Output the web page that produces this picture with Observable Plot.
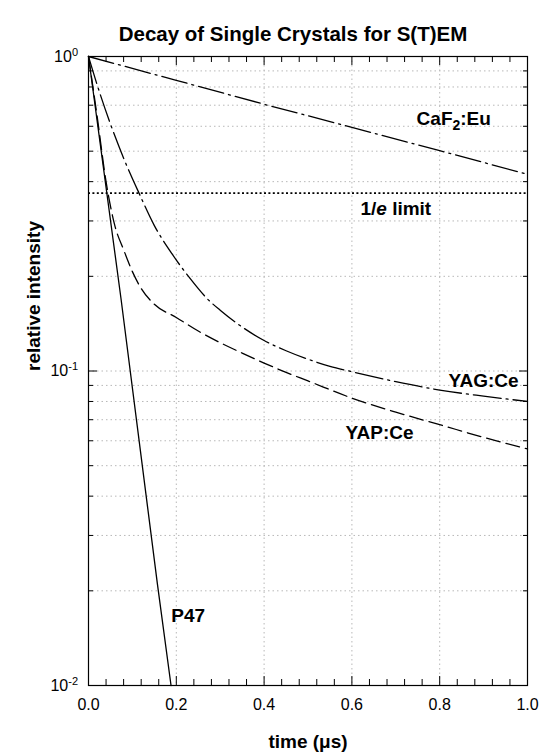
<!DOCTYPE html>
<html>
<head>
<meta charset="utf-8">
<script src="https://cdn.jsdelivr.net/npm/d3@7"></script>
<script src="https://cdn.jsdelivr.net/npm/@observablehq/plot@0.6"></script>
<style>
html, body { margin: 0; padding: 0; background: #fff; }
</style>
</head>
<body>
<div id="chart"></div>
<script>
// ---- texts ----
const titleText = "Decay of Single Crystals for S(T)EM";
const xLabel = "time (μs)";
const yLabel = "relative intensity";

// ---- ticks ----
const xTickValues = [0, 0.2, 0.4, 0.6, 0.8, 1.0];
const xTickLabels = ["0.0", "0.2", "0.4", "0.6", "0.8", "1.0"];
const xMinorTicks = [0.04, 0.08, 0.12, 0.16, 0.24, 0.28, 0.32, 0.36, 0.44, 0.48, 0.52, 0.56,
                     0.64, 0.68, 0.72, 0.76, 0.84, 0.88, 0.92, 0.96];
const xMajorTicks = [0.2, 0.4, 0.6, 0.8];
const yTickValues = [0.01, 0.1, 1];
const yTickLabels = ["10^-2", "10^-1", "10^0"];
const yMinorTicks = [0.02, 0.03, 0.04, 0.05, 0.06, 0.07, 0.08, 0.09,
                     0.2, 0.3, 0.4, 0.5, 0.6, 0.7, 0.8, 0.9];
const xGrid = [0.2, 0.4, 0.6, 0.8];
const yGrid = [0.02, 0.03, 0.04, 0.05, 0.06, 0.07, 0.08, 0.09, 0.1,
               0.2, 0.3, 0.4, 0.5, 0.6, 0.7, 0.8, 0.9];

// ---- series (time in µs, relative intensity) ----
const cafT = [0, 0.2, 0.4, 0.6, 0.8, 1.0];
const cafV = [1, 0.84, 0.705, 0.595, 0.502, 0.422];

const yagT = [0, 0.02, 0.05, 0.08, 0.115, 0.15, 0.19, 0.23, 0.27, 0.30, 0.35, 0.40, 0.45, 0.50, 0.55, 0.60, 0.70, 0.80, 0.90, 1.00];
const yagV = [1, 0.81, 0.61, 0.475, 0.368, 0.29, 0.236, 0.198, 0.170, 0.156, 0.138, 0.125, 0.116, 0.109, 0.1035, 0.0995, 0.0925, 0.087, 0.0832, 0.080];

const yapT = [0, 0.02, 0.04, 0.06, 0.08, 0.10, 0.12, 0.15, 0.20, 0.25, 0.30, 0.35, 0.40, 0.45, 0.50, 0.60, 0.70, 0.80, 0.90, 1.00];
const yapV = [1, 0.64, 0.40, 0.29, 0.243, 0.207, 0.183, 0.163, 0.148, 0.134, 0.123, 0.114, 0.106, 0.099, 0.093, 0.082, 0.074, 0.0675, 0.0615, 0.0565];

const p47T = [0, 0.074, 0.157, 0.188];
const p47V = [1, 0.17, 0.021, 0.01];

const invE = 0.368; // 1/e limit

// ---- in-plot labels ----
const labelTexts = ["CaF2:Eu", "1/e limit", "YAG:Ce", "YAP:Ce", "P47"];
const labelT = [0.832, 0.70, 0.90, 0.663, 0.227];
const labelV = [0.632, 0.328, 0.0933, 0.0635, 0.0166];

// ---- build rows ----
const rows = (T, V) => T.map((t, i) => ({t, v: V[i]}));
const caf = rows(cafT, cafV);
const yag = rows(yagT, yagV);
const yap = rows(yapT, yapV);
const p47 = rows(p47T, p47V);
const labels = labelTexts.map((label, i) => ({label, t: labelT[i], v: labelV[i]}));

const gridStyle = {stroke: "#b8b8b8", strokeWidth: 1, strokeDasharray: "1.5,3"};
const blank = () => "";

const chart = Plot.plot({
  width: 540,
  height: 753,
  marginTop: 56,
  marginBottom: 68,
  marginLeft: 88,
  marginRight: 13,
  style: {fontFamily: "'Liberation Sans', Arial, sans-serif", fontSize: "16px", background: "#fff", color: "#000", overflow: "visible"},
  x: {domain: [0, 1], axis: null, label: null},
  y: {type: "log", domain: [0.01, 1], axis: null, label: null},
  marks: [
    Plot.ruleX(xGrid, gridStyle),
    Plot.ruleY(yGrid, gridStyle),
    Plot.ruleY([invE], {stroke: "#000", strokeWidth: 1.7, strokeDasharray: "2,2.4"}),
    Plot.line(caf, {x: "t", y: "v", stroke: "#000", strokeWidth: 1.3, strokeDasharray: "26,5,2,5"}),
    Plot.line(yag, {x: "t", y: "v", stroke: "#000", strokeWidth: 1.3, curve: "monotone-x", strokeDasharray: "28,5,2,5"}),
    Plot.line(yap, {x: "t", y: "v", stroke: "#000", strokeWidth: 1.3, curve: "monotone-x", strokeDasharray: "14,6"}),
    Plot.line(p47, {x: "t", y: "v", stroke: "#000", strokeWidth: 1.3}),
    Plot.frame({stroke: "#000", strokeWidth: 1.2}),
    // inward ticks
    Plot.axisX(xMinorTicks, {anchor: "bottom", tickSize: -6, tickFormat: blank, label: null}),
    Plot.axisX(xMajorTicks, {anchor: "bottom", tickSize: -9, tickFormat: blank, label: null}),
    Plot.axisX(xMinorTicks, {anchor: "top", tickSize: -5, tickFormat: blank, label: null}),
    Plot.axisX(xMajorTicks, {anchor: "top", tickSize: -8, tickFormat: blank, label: null}),
    Plot.axisY(yMinorTicks, {anchor: "left", tickSize: -5, tickFormat: blank, label: null}),
    Plot.axisY([0.1], {anchor: "left", tickSize: -9, tickFormat: blank, label: null}),
    Plot.axisY(yMinorTicks, {anchor: "right", tickSize: -5, tickFormat: blank, label: null}),
    Plot.axisY([0.1], {anchor: "right", tickSize: -9, tickFormat: blank, label: null}),
    // tick labels
    Plot.axisX(xTickValues, {anchor: "bottom", tickSize: 0, tickPadding: 13, fontSize: 16,
      tickFormat: d => xTickLabels[xTickValues.indexOf(d)], label: null}),
    Plot.axisY(yTickValues, {anchor: "left", tickSize: 0, tickPadding: 10.5, fontSize: 16,
      tickFormat: d => yTickLabels[yTickValues.indexOf(d)], label: null}),
    // titles
    Plot.text([titleText], {text: d => d, frameAnchor: "top", dx: -15, dy: -30, fontWeight: "bold", fontSize: 20.5}),
    Plot.text([xLabel], {text: d => d, frameAnchor: "bottom", dy: 62, fontWeight: "bold", fontSize: 19}),
    Plot.text([yLabel], {text: d => d, frameAnchor: "left", rotate: -90, dx: -55, fontWeight: "bold", fontSize: 19}),
    // curve labels
    Plot.text(labels, {x: "t", y: "v", text: "label", fontWeight: "bold", fontSize: 19, fill: "#000"})
  ]
});

// rich text: superscripts, subscripts, italics
const NS = "http://www.w3.org/2000/svg";
function span(parent, str, attrs = {}) {
  const s = document.createElementNS(NS, "tspan");
  for (const k in attrs) s.setAttribute(k, attrs[k]);
  s.textContent = str;
  parent.appendChild(s);
}
chart.querySelectorAll("text").forEach(t => {
  const s = t.textContent;
  let m = s.match(/^10\^(-?\d+)$/);
  if (m) {
    t.textContent = "";
    span(t, "10");
    span(t, m[1], {"baseline-shift": "6px", "font-size": "11px"});
  } else if (s === "CaF2:Eu") {
    t.textContent = "";
    span(t, "CaF");
    span(t, "2", {"baseline-shift": "-5px", "font-size": "14px"});
    span(t, ":Eu");
  } else if (s === "1/e limit") {
    t.textContent = "";
    span(t, "1/");
    span(t, "e", {"font-style": "italic"});
    span(t, " limit");
  }
});

document.getElementById("chart").appendChild(chart);
</script>
</body>
</html>
